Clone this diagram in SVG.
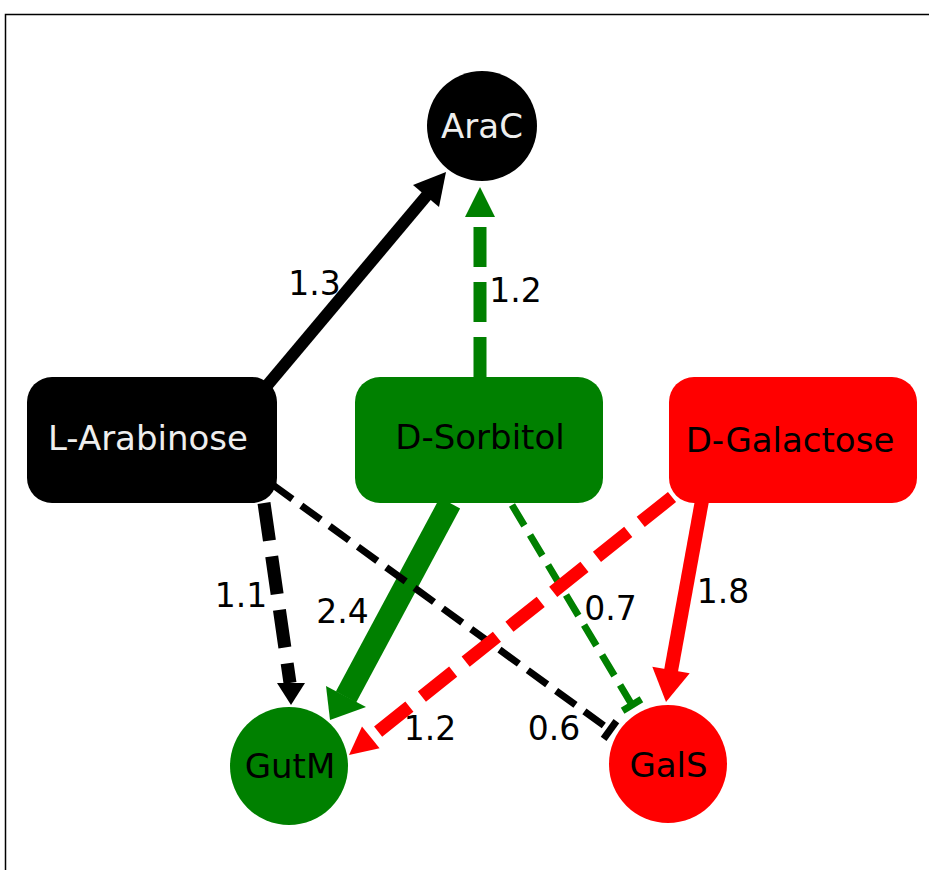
<svg xmlns="http://www.w3.org/2000/svg" width="929" height="870" viewBox="0 0 929 870">
<style>
.lbl{font-family:"DejaVu Sans","Liberation Sans",sans-serif;font-size:33px;fill:#000;text-anchor:middle}
.nt{font-family:"DejaVu Sans","Liberation Sans",sans-serif;font-size:34px;text-anchor:middle}
.e{fill:none;stroke-linecap:butt}
</style>
<rect width="929" height="870" fill="#fff"/>
<path d="M5.5,870 V14.5 H929" fill="none" stroke="#000" stroke-width="1.5"/>
<g id="edges">
  <!-- L-Arabinose -> AraC -->
  <g id="e-larab-arac">
    <line class="e" x1="255" y1="400" x2="428" y2="194" stroke="#000" stroke-width="12"/>
    <polygon points="446,172 439,207 413,185" fill="#000"/>
  </g>
  <!-- D-Sorbitol -> AraC -->
  <g id="e-dsorb-arac">
    <line class="e" x1="480" y1="377" x2="480" y2="217" stroke="#008000" stroke-width="13" stroke-dasharray="40 15"/>
    <polygon points="480,187 495,217 465,217" fill="#008000"/>
  </g>
  <!-- L-Arabinose -> GutM -->
  <g id="e-larab-gutm">
    <line class="e" x1="264" y1="503" x2="290" y2="683" stroke="#000" stroke-width="13" stroke-dasharray="38 16"/>
    <polygon points="291,705 305,683 277,683" fill="#000"/>
  </g>
  <!-- D-Sorbitol -> GutM -->
  <g id="e-dsorb-gutm">
    <line class="e" x1="450" y1="503" x2="346" y2="697" stroke="#008000" stroke-width="23"/>
    <polygon points="330,720 366,707 326,686" fill="#008000"/>
  </g>
  <!-- L-Arabinose -| GalS -->
  <g id="e-larab-gals">
    <line class="e" x1="273" y1="485" x2="610" y2="730" stroke="#000" stroke-width="7" stroke-dasharray="24 11"/>
    <line class="e" x1="603.6" y1="738.9" x2="616.4" y2="721.1" stroke="#000" stroke-width="7"/>
  </g>
  <!-- D-Sorbitol -| GalS -->
  <g id="e-dsorb-gals">
    <line class="e" x1="512" y1="505" x2="632" y2="705" stroke="#008000" stroke-width="7" stroke-dasharray="24 11"/>
    <line class="e" x1="622.6" y1="710.7" x2="641.4" y2="699.3" stroke="#008000" stroke-width="7"/>
  </g>
  <!-- D-Galactose -> GutM -->
  <g id="e-dgal-gutm">
    <line class="e" x1="672" y1="497" x2="370.8" y2="737.4" stroke="#ff0000" stroke-width="13" stroke-dasharray="40 16"/>
    <polygon points="349,755 379.6,748.3 362,726.5" fill="#ff0000"/>
  </g>
  <!-- D-Galactose -> GalS -->
  <g id="e-dgal-gals">
    <line class="e" x1="703" y1="495" x2="671" y2="671" stroke="#ff0000" stroke-width="14"/>
    <polygon points="666,702 689.7,673.2 652.3,666.8" fill="#ff0000"/>
  </g>
</g>
<g id="labels">
  <text class="lbl" x="314.5" y="295">1.3</text>
  <text class="lbl" x="515.5" y="302">1.2</text>
  <text class="lbl" x="241" y="607">1.1</text>
  <text class="lbl" x="342.5" y="623">2.4</text>
  <text class="lbl" x="610.5" y="620">0.7</text>
  <text class="lbl" x="723" y="603">1.8</text>
  <text class="lbl" x="430" y="740">1.2</text>
  <text class="lbl" x="554" y="740">0.6</text>
</g>
<g id="node-arac">
  <circle cx="482" cy="126" r="55" fill="#000"/>
  <text class="nt" x="482" y="138" fill="#eeeeee">AraC</text>
</g>
<g id="node-larabinose">
  <rect x="27" y="377" width="250" height="126" rx="25" fill="#000"/>
  <text class="nt" x="148" y="450" fill="#eeeeee">L-Arabinose</text>
</g>
<g id="node-dsorbitol">
  <rect x="355" y="377" width="248" height="126" rx="25" fill="#008000"/>
  <text class="nt" x="480" y="449" fill="#000">D-Sorbitol</text>
</g>
<g id="node-dgalactose">
  <rect x="669" y="377" width="248" height="126" rx="25" fill="#ff0000"/>
  <text class="nt" x="790" y="452" fill="#000">D-Galactose</text>
</g>
<g id="node-gutm">
  <circle cx="289" cy="766" r="59" fill="#008000"/>
  <text class="nt" x="290" y="778" fill="#000">GutM</text>
</g>
<g id="node-gals">
  <circle cx="668" cy="764" r="59" fill="#ff0000"/>
  <text class="nt" x="668.5" y="777" fill="#000">GalS</text>
</g>
</svg>
